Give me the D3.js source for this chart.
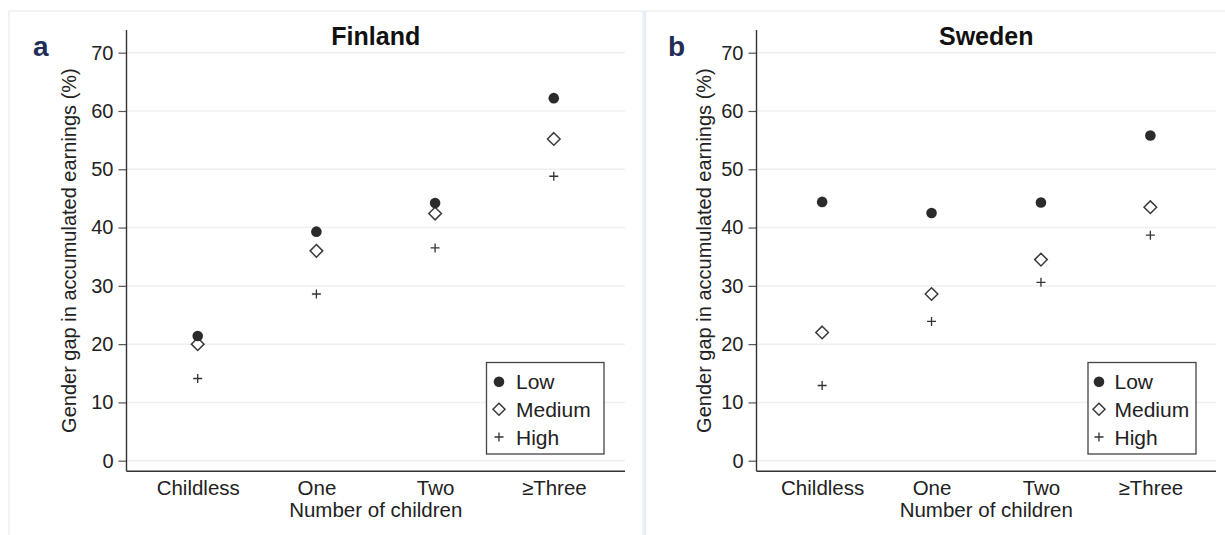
<!DOCTYPE html>
<html>
<head>
<meta charset="utf-8">
<script src="https://cdn.jsdelivr.net/npm/d3@7"></script>
<style>
  html, body { margin: 0; padding: 0; background: #ffffff; }
  svg { display: block; font-family: "Liberation Sans", Arial, sans-serif; }
</style>
</head>
<body>
<svg id="chart" width="1225" height="535"></svg>
<script>
// Categories and groups shared by both panels
const categories = ["Childless", "One", "Two", "\u2265Three"];
const groups = ["Low", "Medium", "High"];
const yTicks = [0, 10, 20, 30, 40, 50, 60, 70];

// Gender gap in accumulated earnings (%), by number of children
const finlandLow    = [21.4, 39.3, 44.2, 62.2];
const finlandMedium = [20.0, 36.0, 42.4, 55.2];
const finlandHigh   = [14.1, 28.6, 36.5, 48.8];

const swedenLow     = [44.4, 42.5, 44.3, 55.8];
const swedenMedium  = [22.0, 28.6, 34.5, 43.5];
const swedenHigh    = [12.9, 23.9, 30.6, 38.7];

const svg = d3.select("#chart");

// Faint panel frames
svg.append("rect")
  .attr("x", 9).attr("y", 11).attr("width", 634).attr("height", 540)
  .attr("fill", "none").attr("stroke", "#eceff2").attr("stroke-width", 1.5);
svg.append("line")
  .attr("x1", 645).attr("x2", 1225).attr("y1", 11).attr("y2", 11)
  .attr("stroke", "#eceff2").attr("stroke-width", 1.5);
svg.append("line")
  .attr("x1", 645).attr("x2", 645).attr("y1", 11).attr("y2", 535)
  .attr("stroke", "#e2ecf6").attr("stroke-width", 2.5);

const ink = "#2b2b2b";

function drawPanel(opts) {
  const g = svg.append("g");
  const x = d3.scaleLinear().domain([0.4, 4.6]).range([opts.left, opts.right]);
  const y = d3.scaleLinear().domain([0, 70]).range([460.7, 52.7]);
  const yMin = -1.8, yMax = 73.9;

  // Horizontal gridlines
  g.append("g").selectAll("line").data(yTicks).join("line")
    .attr("x1", opts.left).attr("x2", opts.right)
    .attr("y1", d => y(d)).attr("y2", d => y(d))
    .attr("stroke", "#efefef").attr("stroke-width", 1.5);

  // Y axis
  const yAxis = d3.axisLeft(y).tickValues(yTicks).tickSize(8).tickPadding(5);
  const ya = g.append("g").attr("transform", `translate(${opts.left},0)`).call(yAxis);
  ya.select(".domain").remove();
  ya.selectAll(".tick line").attr("stroke", "#555").attr("stroke-width", 1.2);
  ya.selectAll(".tick text").attr("font-size", 20).attr("fill", "#222")
    .attr("font-family", "Liberation Sans, Arial, sans-serif");
  g.append("line")
    .attr("x1", opts.left).attr("x2", opts.left)
    .attr("y1", y(yMax)).attr("y2", y(yMin))
    .attr("stroke", "#333").attr("stroke-width", 1.4);

  // X axis line and category labels
  g.append("line")
    .attr("x1", opts.left).attr("x2", opts.right)
    .attr("y1", y(yMin)).attr("y2", y(yMin))
    .attr("stroke", "#333").attr("stroke-width", 1.4);
  const xAxis = d3.axisBottom(x).tickValues([1, 2, 3, 4])
    .tickFormat(d => categories[d - 1]).tickSize(0).tickPadding(9);
  const xa = g.append("g").attr("transform", `translate(0,${y(yMin)})`).call(xAxis);
  xa.select(".domain").remove();
  xa.selectAll(".tick text").attr("font-size", 20.5).attr("fill", "#222")
    .attr("font-family", "Liberation Sans, Arial, sans-serif");

  const cx = (opts.left + opts.right) / 2;
  g.append("text").attr("x", cx).attr("y", 516.5)
    .attr("text-anchor", "middle").attr("font-size", 20.5).attr("fill", "#222")
    .text("Number of children");

  g.append("text")
    .attr("transform", `translate(${opts.titleX},${(y(yMax) + y(yMin)) / 2}) rotate(-90)`)
    .attr("text-anchor", "middle").attr("dominant-baseline", "central")
    .attr("font-size", 20).attr("fill", "#222")
    .text("Gender gap in accumulated earnings (%)");

  // Panel title and letter
  g.append("text").attr("x", cx).attr("y", 45)
    .attr("text-anchor", "middle").attr("font-size", 25).attr("font-weight", "bold")
    .attr("fill", "#111").text(opts.title);
  g.append("text").attr("x", opts.letterX).attr("y", 56)
    .attr("font-size", 28).attr("font-weight", "bold")
    .attr("fill", "#1f2d58").text(opts.letter);

  const idx = [0, 1, 2, 3];
  // High: plus signs
  g.append("g").selectAll("path").data(idx).join("path")
    .attr("d", i => {
      const px = x(i + 1), py = y(opts.high[i]);
      return `M${px - 4.5},${py}H${px + 4.5}M${px},${py - 4.5}V${py + 4.5}`;
    })
    .attr("stroke", "#333").attr("stroke-width", 1.3).attr("fill", "none");
  // Medium: hollow diamonds
  g.append("g").selectAll("path").data(idx).join("path")
    .attr("d", i => {
      const px = x(i + 1), py = y(opts.medium[i]);
      return `M${px},${py - 6.3}L${px + 6.3},${py}L${px},${py + 6.3}L${px - 6.3},${py}Z`;
    })
    .attr("stroke", "#3a3a3a").attr("stroke-width", 1.5).attr("fill", "#fff");
  // Low: filled circles
  g.append("g").selectAll("circle").data(idx).join("circle")
    .attr("cx", i => x(i + 1)).attr("cy", i => y(opts.low[i]))
    .attr("r", 5.3).attr("fill", ink);

  // Legend
  const lg = g.append("g");
  lg.append("rect")
    .attr("x", opts.legend.x0).attr("y", 362.5)
    .attr("width", opts.legend.x1 - opts.legend.x0).attr("height", 91.5)
    .attr("fill", "#fff").attr("stroke", "#444").attr("stroke-width", 1.3);
  const rows = [381.7, 409.3, 437];
  const sx = opts.legend.sym;
  groups.forEach((name, k) => {
    const ry = rows[k];
    if (name === "Low") {
      lg.append("circle").attr("cx", sx).attr("cy", ry).attr("r", 5.3).attr("fill", ink);
    } else if (name === "Medium") {
      lg.append("path")
        .attr("d", `M${sx},${ry - 6}L${sx + 6},${ry}L${sx},${ry + 6}L${sx - 6},${ry}Z`)
        .attr("stroke", "#3a3a3a").attr("stroke-width", 1.5).attr("fill", "#fff");
    } else {
      lg.append("path")
        .attr("d", `M${sx - 4.5},${ry}H${sx + 4.5}M${sx},${ry - 4.5}V${ry + 4.5}`)
        .attr("stroke", "#333").attr("stroke-width", 1.3);
    }
    lg.append("text").attr("x", opts.legend.text).attr("y", ry)
      .attr("dominant-baseline", "central").attr("font-size", 21).attr("fill", "#222")
      .text(name);
  });
}

drawPanel({
  title: "Finland", letter: "a", letterX: 33,
  left: 126.5, right: 625, titleX: 69,
  low: finlandLow, medium: finlandMedium, high: finlandHigh,
  legend: { x0: 486.5, x1: 604, sym: 499, text: 516 }
});

drawPanel({
  title: "Sweden", letter: "b", letterX: 668,
  left: 756.5, right: 1216, titleX: 704,
  low: swedenLow, medium: swedenMedium, high: swedenHigh,
  legend: { x0: 1088, x1: 1196, sym: 1099, text: 1114.5 }
});
</script>
</body>
</html>
